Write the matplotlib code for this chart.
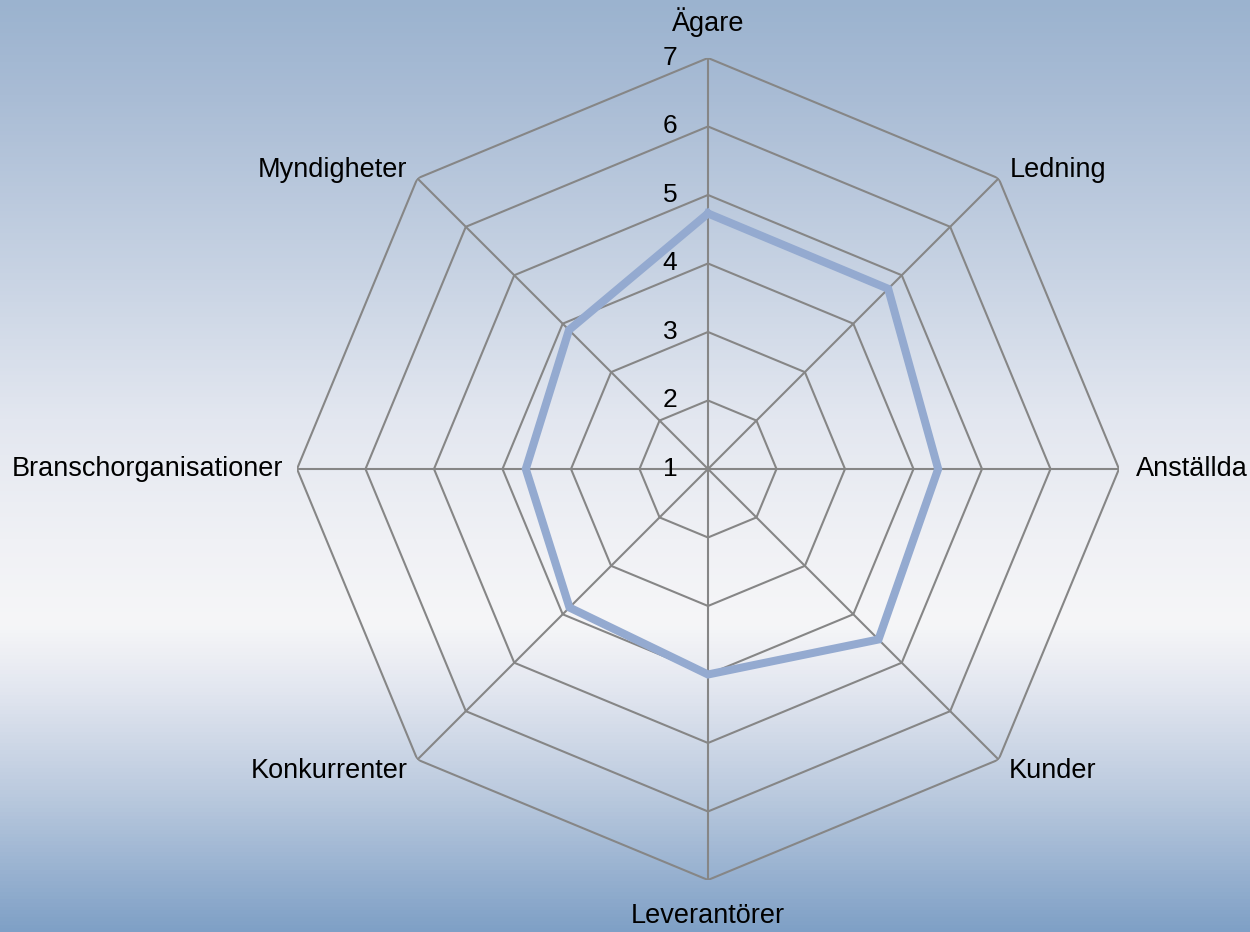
import numpy as np
import matplotlib.pyplot as plt
from matplotlib.colors import LinearSegmentedColormap

plt.rcParams['font.family'] = ['Liberation Sans', 'DejaVu Sans']

categories = ["Ägare", "Ledning", "Anställda", "Kunder",
              "Leverantörer", "Konkurrenter", "Branschorganisationer", "Myndigheter"]
values = [4.73, 4.72, 4.36, 4.52, 4.0, 3.86, 3.66, 3.87]
ring_values = [1, 2, 3, 4, 5, 6, 7]

fig = plt.figure(figsize=(12.5, 9.32), dpi=100)

# background gradient
bg = fig.add_axes([0, 0, 1, 1])
stops = [(0.0, "#7fa0c6"), (0.15, "#bccbdf"), (0.26, "#e3e7f0"), (0.33, "#f6f6f8"),
         (0.42, "#f0f1f5"), (0.55, "#e3e7f0"), (0.7, "#c9d4e4"), (0.9, "#a9bcd5"),
         (1.0, "#9bb3cf")]
cmap = LinearSegmentedColormap.from_list("bg", stops)
grad = np.linspace(0, 1, 256).reshape(-1, 1)
bg.imshow(grad, aspect="auto", cmap=cmap, origin="lower", extent=[0, 1, 0, 1])
bg.set_axis_off()

ax = fig.add_axes([0.2376, 0.0558, 0.6576, 0.882], projection="polar")
ax.set_facecolor("none")
ax.set_theta_zero_location("N")
ax.set_theta_direction(-1)
ax.set_ylim(1, 7)
ax.grid(False)
ax.spines["polar"].set_visible(False)
ax.set_xticks([])
ax.set_yticks([])

n = len(categories)
theta = np.linspace(0, 2 * np.pi, n, endpoint=False)
theta_c = np.append(theta, theta[0])

# octagon rings
for v in ring_values[1:]:
    ax.plot(theta_c, [v] * (n + 1), color="#868686", lw=1.5, zorder=1)
# spokes
for t in theta:
    ax.plot([t, t], [1, 7], color="#868686", lw=1.5, zorder=1)

vals = np.append(values, values[0])
ax.plot(theta_c, vals, color="#94aad0", lw=5.8, zorder=3, solid_joinstyle="miter")

# value labels
for v in ring_values:
    ax.annotate(str(v), (0, v), xytext=(-22, 0), textcoords="offset points",
                ha="right", va="center", fontsize=19)

# category labels
offsets = [(0, 26, "center", "center"), (8, 6, "left", "center"),
           (12, 0, "left", "center"), (7, -8, "left", "center"),
           (0, -26, "center", "center"), (-7, -8, "right", "center"),
           (-10, 0, "right", "center"), (-7, 6, "right", "center")]
for t, lab, (dx, dy, ha, va) in zip(theta, categories, offsets):
    ax.annotate(lab, (t, 7), xytext=(dx, dy), textcoords="offset points",
                ha=ha, va=va, fontsize=19.5, annotation_clip=False)

fig.savefig("out.png", dpi=100)
